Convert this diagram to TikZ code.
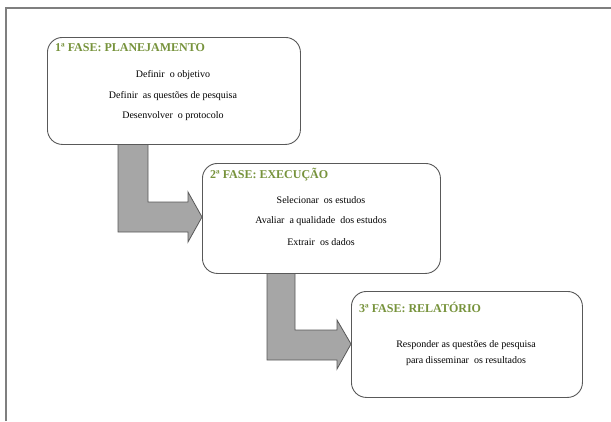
\documentclass[tikz,border=0pt]{standalone}
\usepackage{fontspec}
\setmainfont{Liberation Serif}
\usetikzlibrary{calc}
\definecolor{phasegreen}{HTML}{77933C}
\definecolor{boxline}{HTML}{595959}
\definecolor{arrowfill}{HTML}{A6A6A6}
\definecolor{frameline}{HTML}{7F7F7F}
\tikzset{
  phasebox/.style={draw=boxline, line width=0.9pt, fill=white, rounded corners=15pt, inner sep=0pt},
  phasetitle/.style={anchor=west, inner sep=0pt, font=\fontsize{12}{14}\selectfont\bfseries, text=phasegreen},
  bodytext/.style={anchor=center, inner sep=0pt, font=\fontsize{10}{12}\selectfont},
  flow/.style={draw=boxline, line width=0.8pt, fill=arrowfill, line join=miter},
  framestyle/.style={draw=frameline, line width=1.2pt}
}
\begin{document}
\begin{tikzpicture}[x=1pt,y=-1pt]
\useasboundingbox (0,0) rectangle (611,421);
% outer frame
\coordinate (fbl) at (6,421);
\coordinate (ftl) at (6,8);
\coordinate (ftr) at (611,8);
\draw[framestyle] (fbl) -- (ftl) -- (ftr);

% boxes (positions)
\path (47,37) coordinate (b1nw) (300,144) coordinate (b1se);
\path (202,163) coordinate (b2nw) (440,273) coordinate (b2se);
\path (351,291) coordinate (b3nw) (582,397) coordinate (b3se);

% arrows
\draw[flow] (118,144) -- (118,232) -- (188,232) -- (188,242) -- (202,217) -- (188,192) -- (188,202) -- (148,202) -- (148,144) -- cycle;
\draw[flow] (267,273) -- (267,360) -- (337,360) -- (337,369) -- (351,344) -- (337,320) -- (337,330) -- (295,330) -- (295,273) -- cycle;

% box shapes
\node[phasebox, minimum width=253pt, minimum height=107pt, anchor=north west] (b1) at (b1nw) {};
\node[phasebox, minimum width=238pt, minimum height=110pt, anchor=north west] (b2) at (b2nw) {};
\node[phasebox, minimum width=231pt, minimum height=106pt, anchor=north west] (b3) at (b3nw) {};

% box 1 texts
\node[phasetitle] (t1) at (55,48) {1ª FASE: PLANEJAMENTO};
\node[bodytext] (l11) at (173,75) {Definir\ \ o objetivo};
\node[bodytext] (l12) at (173,96) {Definir\ \ as questões\ de pesquisa};
\node[bodytext] (l13) at (173,116) {Desenvolver\ \ o protocolo};

% box 2 texts
\node[phasetitle] (t2) at (210,175) {2ª FASE: EXECUÇÃO};
\node[bodytext] (l21) at (321,200) {Selecionar\ \ os estudos};
\node[bodytext] (l22) at (321,221) {Avaliar\ \ a qualidade\ \ dos estudos};
\node[bodytext] (l23) at (321,242) {Extrair\ \ os dados};

% box 3 texts
\node[phasetitle] (t3) at (359,307) {3ª FASE: RELATÓRIO};
\node[bodytext] (l31) at (466,345) {Responder as questões\ de pesquisa};
\node[bodytext] (l32) at (466,361) {para disseminar\ \ os resultados};
\end{tikzpicture}
\end{document}
